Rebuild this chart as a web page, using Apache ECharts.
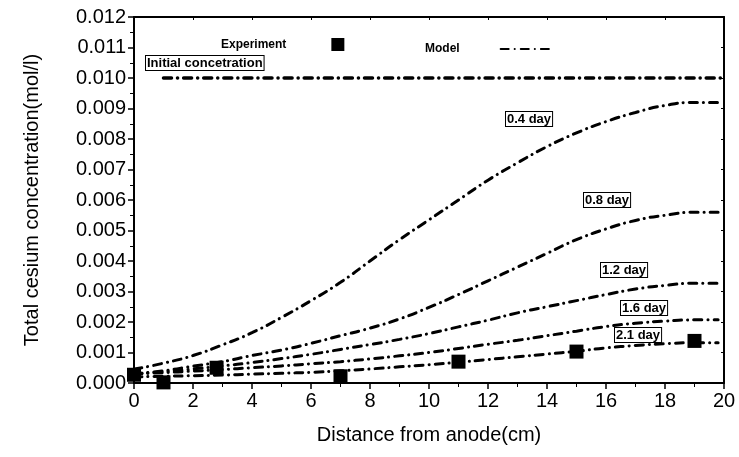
<!DOCTYPE html>
<html><head><meta charset="utf-8">
<script src="https://cdn.jsdelivr.net/npm/echarts@6/dist/echarts.min.js"></script>
<style>html,body{margin:0;padding:0;background:#fff}#c{width:739px;height:457px}</style>
</head><body><div id="c"></div>
<script>
const xs = [0,1,2,3,4,5,6,7,8,9,10,11,12,13,14,15,16,17,18,19,19.8];
const day04 = [0.00045,0.00065,0.00090,0.00125,0.00165,0.00215,0.0027,0.0033,0.0040,0.0047,0.00535,0.0060,0.00665,0.00722,0.00775,0.0082,0.00857,0.00887,0.0091,0.0092,0.0092];
const day08 = [0.0003,0.0004,0.00055,0.0007,0.0009,0.00108,0.0013,0.00155,0.0018,0.0021,0.00248,0.0029,0.00335,0.0038,0.00425,0.0047,0.00505,0.00533,0.0055,0.0056,0.0056];
const day12 = [0.0003,0.00037,0.00046,0.00056,0.00067,0.0008,0.00094,0.0011,0.00126,0.00143,0.00162,0.00184,0.00206,0.0023,0.0025,0.0027,0.0029,0.00308,0.0032,0.00327,0.00327];
const day16 = [0.0003,0.00034,0.00039,0.00044,0.0005,0.00056,0.00063,0.0007,0.00079,0.00089,0.001,0.00113,0.00127,0.0014,0.00155,0.0017,0.00185,0.00196,0.00203,0.00207,0.00207];
const day21 = [0.0002,0.00022,0.00024,0.00026,0.00029,0.00032,0.00035,0.0004,0.00046,0.00053,0.0006,0.00068,0.00077,0.00086,0.00095,0.00104,0.00115,0.00123,0.00129,0.00132,0.00132];
const initialX = [1,20];
const initialY = [0.010,0.010];
const expX = [0,1,2.8,7,11,15,19];
const expY = [0.00027,0.00002,0.0005,0.00022,0.0007,0.00103,0.00138];
const dayLabels = ['0.4 day','0.8 day','1.2 day','1.6 day','2.1 day'];

const pair = (xa, ya) => xa.map((x,i)=>[x, ya[i]]);
const FONT = 'Liberation Sans';
const dashDot = [8,6,0.1,6];
const lineStyle = {color:'#000', width:3, type:dashDot, cap:'round'};
const modelSeries = [day04,day08,day12,day16,day21].map(v=>({
  name:'Model', type:'line', data:pair(xs,v), symbol:'none', smooth:0.5,
  lineStyle:lineStyle, itemStyle:{color:'#000'}, silent:true, z:2
}));

const boxText = (txt, left, top) => ({
  type:'text', left:left, top:top, z:10,
  style:{text:txt, font:'bold 13px "'+FONT+'"', fill:'#000',
    backgroundColor:'#fff', borderColor:'#000', borderWidth:1, padding:[1,1,0,1]}
});

const chart = echarts.init(document.getElementById('c'), null, {renderer:'canvas'});
chart.setOption({
  animation:false,
  backgroundColor:'#fff',
  textStyle:{fontFamily:FONT},
  grid:{left:134, right:15, top:17, bottom:74},
  legend:[
    {data:['Experiment'], left:216, top:33, align:'right', itemWidth:13, itemHeight:13,
     icon:'rect', itemStyle:{color:'#000', opacity:1},
     textStyle:{fontFamily:FONT, fontWeight:'bold', fontSize:12, color:'#000', padding:[0,40,0,0]}},
    {data:['Model'], left:420, top:38, align:'right', itemWidth:50, itemHeight:10,
     itemStyle:{opacity:0},
     textStyle:{fontFamily:FONT, fontWeight:'bold', fontSize:12, color:'#000', padding:[0,36,0,0]}}
  ],
  xAxis:[{
    type:'value', min:0, max:20, interval:2,
    name:'Distance from anode(cm)', nameLocation:'middle', nameGap:42,
    nameTextStyle:{fontSize:20, color:'#000', fontFamily:FONT},
    axisLine:{onZero:false, lineStyle:{color:'#000', width:2}},
    axisTick:{inside:false, length:6, lineStyle:{color:'#000', width:1.5}},
    minorTick:{show:true, splitNumber:2, length:4, lineStyle:{color:'#000'}},
    axisLabel:{fontSize:20, color:'#000', margin:8, fontFamily:FONT},
    splitLine:{show:false}
  },{
    type:'value', position:'top', min:0, max:20, interval:2,
    axisLine:{onZero:false, lineStyle:{color:'#000', width:2}},
    axisTick:{inside:true, length:3, lineStyle:{color:'#000'}},
    axisLabel:{show:false}, splitLine:{show:false}
  }],
  yAxis:[{
    type:'value', min:0, max:0.012, interval:0.001,
    name:'Total cesium concentration(mol/l)', nameLocation:'middle', nameGap:92,
    nameTextStyle:{fontSize:20, color:'#000', fontFamily:FONT},
    axisLine:{onZero:false, lineStyle:{color:'#000', width:2}},
    axisTick:{inside:false, length:6, lineStyle:{color:'#000', width:1.5}},
    minorTick:{show:true, splitNumber:2, length:4, lineStyle:{color:'#000'}},
    axisLabel:{fontSize:20, color:'#000', margin:8, fontFamily:FONT, formatter:v=>v.toFixed(3)},
    splitLine:{show:false}
  },{
    type:'value', position:'right', min:0, max:0.012, interval:0.001,
    axisLine:{onZero:false, lineStyle:{color:'#000', width:2}},
    axisTick:{inside:true, length:3, lineStyle:{color:'#000'}},
    axisLabel:{show:false}, splitLine:{show:false}
  }],
  series:[
    {name:'Initial', type:'line', data:pair(initialX,initialY), symbol:'none',
     lineStyle:Object.assign({}, lineStyle, {width:3.5}), itemStyle:{color:'#000'}, silent:true},
    ...modelSeries,
    {name:'Experiment', type:'scatter', data:pair(expX,expY), symbol:'rect', symbolSize:14,
     itemStyle:{color:'#000', opacity:1}, z:5}
  ],
  graphic:[
    boxText('Initial concetration', 145, 55),
    boxText(dayLabels[0], 505, 111),
    boxText(dayLabels[1], 583, 192),
    boxText(dayLabels[2], 600, 262),
    boxText(dayLabels[3], 620, 300),
    boxText(dayLabels[4], 614, 327)
  ]
});
</script></body></html>
